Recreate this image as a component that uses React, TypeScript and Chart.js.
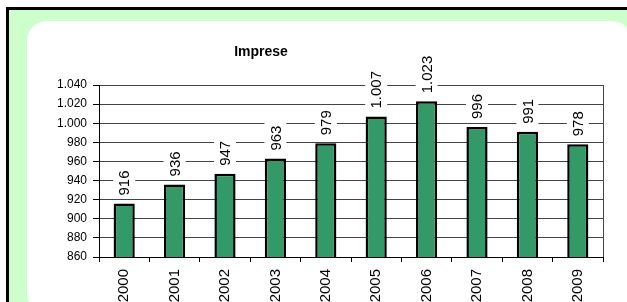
import React, { useEffect, useRef } from 'react';
import { Chart, registerables } from 'chart.js';

Chart.register(...registerables);

const chartTitle = 'Imprese';
const categories = ['2000', '2001', '2002', '2003', '2004', '2005', '2006', '2007', '2008', '2009'];
const impreseValues = [916, 936, 947, 963, 979, 1007, 1023, 996, 991, 978];
const yTickValues = [860, 880, 900, 920, 940, 960, 980, 1000, 1020, 1040];

const FONT = '"Liberation Sans", Arial, sans-serif';

const fmt = (v: number) => {
  const s = String(Math.round(v));
  return s.length > 3 ? s.slice(0, -3) + '.' + s.slice(-3) : s;
};

const decorPlugin = {
  id: 'decor',
  beforeDatasetsDraw(chart: any) {
    const { ctx, chartArea } = chart;
    ctx.save();
    ctx.strokeStyle = '#444';
    ctx.lineWidth = 1;
    const x = Math.round(chartArea.right) + 0.5;
    ctx.beginPath();
    ctx.moveTo(x, chartArea.top);
    ctx.lineTo(x, chartArea.bottom);
    ctx.stroke();
    ctx.restore();
  },
  afterDatasetsDraw(chart: any) {
    const { ctx } = chart;
    const meta = chart.getDatasetMeta(0);
    const data = chart.data.datasets[0].data as number[];
    ctx.save();
    ctx.font = `15px ${FONT}`;
    meta.data.forEach((el: any, i: number) => {
      const text = fmt(data[i]);
      const w = ctx.measureText(text).width;
      const gap = 8;
      ctx.fillStyle = '#fff';
      ctx.fillRect(el.x - 11, el.y - gap - w - 4, 22, w + 7);
      ctx.save();
      ctx.translate(el.x, el.y - gap);
      ctx.rotate(-Math.PI / 2);
      ctx.fillStyle = '#000';
      ctx.textAlign = 'left';
      ctx.textBaseline = 'middle';
      ctx.fillText(text, 0, 1);
      ctx.restore();
    });
    ctx.restore();
  },
  afterDraw(chart: any) {
    const { ctx } = chart;
    ctx.save();
    ctx.font = `bold 14px ${FONT}`;
    ctx.fillStyle = '#000';
    ctx.textAlign = 'center';
    ctx.textBaseline = 'middle';
    ctx.fillText(chartTitle, 261, 52);
    ctx.restore();
  },
};

export default function App() {
  const canvasRef = useRef<HTMLCanvasElement | null>(null);

  useEffect(() => {
    const canvas = canvasRef.current;
    if (!canvas) return;
    const chart = new Chart(canvas, {
      type: 'bar',
      data: {
        labels: categories,
        datasets: [
          {
            label: chartTitle,
            data: impreseValues,
            backgroundColor: '#339966',
            borderColor: '#000',
            borderWidth: 2.5,
            borderSkipped: false,
            barPercentage: 0.42,
            categoryPercentage: 1,
          },
        ],
      },
      options: {
        responsive: false,
        animation: false,
        devicePixelRatio: 1,
        layout: { padding: { top: 85, right: 24, left: 0, bottom: 0 } },
        plugins: {
          legend: { display: false },
          tooltip: { enabled: false },
          title: { display: false },
        },
        scales: {
          x: {
            offset: true,
            afterFit: (s: any) => {
              s.height = 45;
            },
            grid: {
              display: true,
              drawOnChartArea: false,
              offset: true,
              tickLength: 5,
              tickColor: '#000',
            },
            border: { color: '#000', width: 1 },
            ticks: {
              minRotation: 90,
              maxRotation: 90,
              autoSkip: false,
              padding: 7,
              color: '#000',
              font: { size: 15, family: FONT },
            },
          },
          y: {
            min: 860,
            max: 1040,
            afterBuildTicks: (s: any) => {
              s.ticks = yTickValues.map((v) => ({ value: v }));
            },
            afterFit: (s: any) => {
              s.width = 99;
            },
            ticks: {
              callback: (v: any) => fmt(Number(v)),
              color: '#000',
              padding: 6,
              font: { size: 12, family: FONT },
            },
            grid: {
              color: '#444',
              lineWidth: 1,
              tickLength: 6,
              tickColor: '#000',
            },
            border: { color: '#000', width: 1 },
          },
        },
      },
      plugins: [decorPlugin],
    });
    return () => chart.destroy();
  }, []);

  return (
    <div style={{ position: 'absolute', left: 0, top: 0, width: 627, height: 302, overflow: 'hidden', background: '#fff' }}>
      <div
        style={{
          position: 'absolute',
          left: 6,
          top: 7,
          width: 700,
          height: 400,
          border: '3px solid #000',
          background: '#CCFFCC',
        }}
      />
      <div
        style={{
          position: 'absolute',
          left: 27,
          top: 21,
          width: 605,
          height: 292,
          borderRadius: 20,
          background: '#fff',
        }}
      />
      <canvas
        ref={canvasRef}
        width={627}
        height={302}
        style={{ position: 'absolute', left: 0, top: 0, width: 627, height: 302 }}
      />
    </div>
  );
}
